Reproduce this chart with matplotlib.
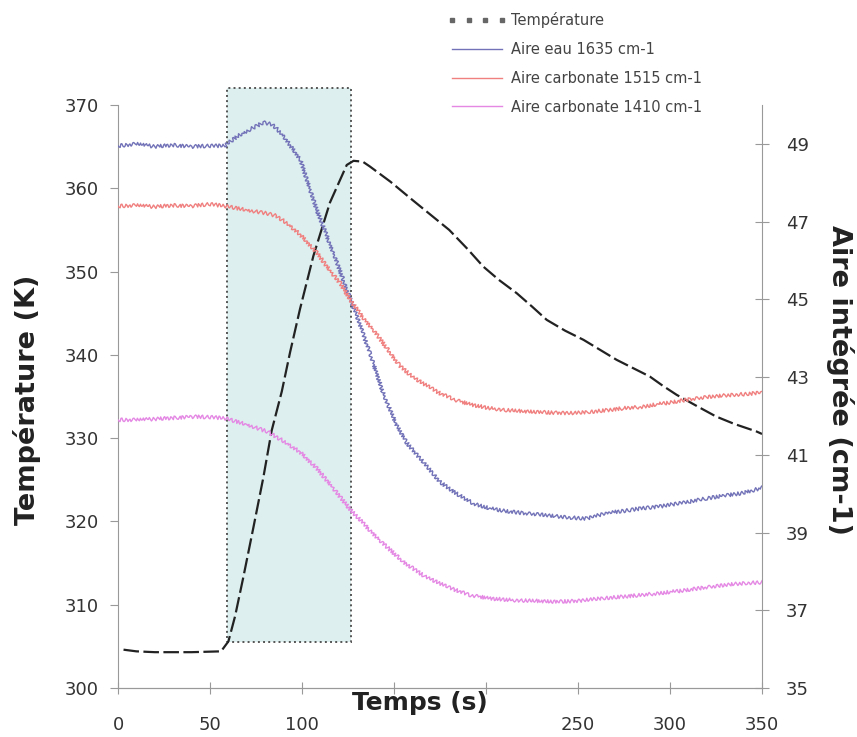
import matplotlib
matplotlib.use("Agg")
import matplotlib.pyplot as plt
from matplotlib.patches import Rectangle
from matplotlib.lines import Line2D

plt.rcParams['font.family'] = ['DejaVu Sans']

# temperature (K), left axis
t_temp = [3, 10, 20, 40, 56, 58, 60, 63.6, 68.1, 73.6, 79, 83.5, 89, 93.5, 98.9,
          106.2, 115.2, 124.3, 128, 133, 137, 148, 160, 170, 180, 190, 198.5, 207,
          216.7, 225, 233, 243, 253, 262, 271, 280, 289, 296, 303.6, 315, 325, 335,
          347, 350]
temp = [304.6, 304.4, 304.3, 304.3, 304.4, 305.0, 305.6, 308.6, 313.3, 319.3, 325.3,
        330.9, 335.6, 340.3, 345.5, 351.9, 358.3, 362.8, 363.3, 363.2, 362.6, 360.8,
        358.6, 356.8, 355.0, 352.7, 350.6, 349.0, 347.4, 345.8, 344.2, 342.9, 341.8,
        340.6, 339.4, 338.4, 337.4, 336.3, 335.2, 333.8, 332.6, 331.7, 330.8, 330.5]

# integrated areas (cm-1), right axis
t_eau = [0, 10, 20, 30, 40, 50, 58, 65, 72, 79, 84, 90, 99, 108, 117, 124, 131, 137,
         144, 151, 157, 166, 175, 184, 193, 202, 211, 220, 229, 238, 247, 255, 265,
         274, 284, 293, 302, 311, 320, 330, 340, 350]
eau = [48.95, 49.0, 48.93, 48.97, 48.93, 48.95, 48.95, 49.2, 49.38, 49.55, 49.5, 49.2,
       48.6, 47.3, 46.2, 45.3, 44.4, 43.6, 42.6, 41.8, 41.3, 40.8, 40.3, 40.0, 39.75,
       39.62, 39.55, 39.5, 39.47, 39.42, 39.38, 39.36, 39.5, 39.55, 39.62, 39.66,
       39.73, 39.8, 39.88, 39.95, 40.02, 40.15]

t_c1515 = [0, 10, 20, 30, 40, 50, 58, 70, 80, 86, 92, 99, 108, 115, 121, 126, 132,
           139, 146, 153, 160, 167, 175, 184, 193, 202, 211, 220, 229, 238, 247, 256,
           266, 275, 284, 293, 302, 311, 320, 330, 340, 350]
c1515 = [47.4, 47.42, 47.38, 47.42, 47.4, 47.45, 47.4, 47.3, 47.22, 47.15, 46.95,
         46.67, 46.2, 45.75, 45.4, 45.0, 44.6, 44.2, 43.75, 43.3, 43.0, 42.8, 42.58,
         42.4, 42.28, 42.2, 42.15, 42.12, 42.1, 42.08, 42.07, 42.1, 42.15, 42.2, 42.23,
         42.3, 42.36, 42.43, 42.49, 42.53, 42.56, 42.6]

t_c1410 = [0, 10, 20, 30, 40, 50, 58, 70, 81, 90, 99, 108, 117, 126, 135, 144, 155,
           167, 179, 191, 203, 215, 227, 238, 250, 262, 274, 286, 298, 309, 321, 333,
           342, 350]
c1410 = [41.9, 41.9, 41.92, 41.95, 41.98, 41.97, 41.94, 41.78, 41.6, 41.35, 41.07,
         40.65, 40.14, 39.6, 39.15, 38.72, 38.25, 37.86, 37.6, 37.39, 37.3, 37.26,
         37.24, 37.22, 37.24, 37.3, 37.35, 37.4, 37.46, 37.52, 37.6, 37.67, 37.7, 37.72]

# heating zone highlighted on the chart
shade_x0, shade_x1 = 59, 126.5
shade_y0, shade_y1 = 305.5, 372

fig = plt.figure(figsize=(8.57, 7.37), dpi=100)
ax = fig.add_axes([0.1377, 0.0665, 0.7515, 0.791])
ax2 = ax.twinx()

grey = '#999999'
ax.add_patch(Rectangle((shade_x0, shade_y0), shade_x1 - shade_x0, shade_y1 - shade_y0,
                       facecolor='#ddefef', edgecolor='#555555', linestyle=':',
                       linewidth=1.4, clip_on=False, zorder=0.5))

ax.plot(t_temp, temp, color='#222222', linewidth=1.6, linestyle=(0, (7, 2)), zorder=3)

l1, = ax2.plot(t_eau, eau, color='#7272b8', linewidth=1.0)
l2, = ax2.plot(t_c1515, c1515, color='#f07f7f', linewidth=1.0)
l3, = ax2.plot(t_c1410, c1410, color='#e488e4', linewidth=1.0)
# zigzag look of the raw spectra
for l in (l1, l2, l3):
    l.set_sketch_params(1.8, 4.0, 2.0)

ax.set_xlim(0, 350)
ax.set_ylim(300, 370)
ax2.set_ylim(35, 50)

ax.set_xticks(range(0, 351, 50))
ax.set_xticklabels(['0', '50', '100', '', '', '250', '300', '350'])
ax.set_yticks(range(300, 371, 10))
ax2.set_yticks(range(35, 50, 2))

for a in (ax, ax2):
    for s in a.spines.values():
        s.set_color(grey)
    a.spines['top'].set_visible(False)
ax.spines['right'].set_visible(False)
ax2.spines['left'].set_visible(False)

ax.tick_params(axis='x', direction='inout', length=9, color=grey, labelsize=13,
               labelcolor='#333333', pad=16)
ax.tick_params(axis='y', direction='out', length=6, color=grey, labelsize=13,
               labelcolor='#333333', pad=8)
ax2.tick_params(axis='y', direction='inout', length=10, color=grey, labelsize=13,
                labelcolor='#333333', pad=12)

ax.text(0.469, -0.006, 'Temps (s)', transform=ax.transAxes, ha='center', va='top',
        fontsize=18, fontweight='bold', color='#222222')
fig.text(27 / 857, 1 - 400 / 737, 'Température (K)', rotation=90, ha='center',
         va='center', fontsize=19.5, fontweight='bold', color='#222222')
fig.text(840 / 857, 1 - 380 / 737, 'Aire intégrée (cm-1)', rotation=-90, ha='center',
         va='center', fontsize=19.5, fontweight='bold', color='#222222')

handles = [Line2D([0], [0], linestyle='none', marker='s', markersize=3.5, color='#666666'),
           Line2D([0], [0], color='#7272b8', linewidth=1),
           Line2D([0], [0], color='#f07f7f', linewidth=1),
           Line2D([0], [0], color='#e488e4', linewidth=1)]
labels = ['Température', 'Aire eau 1635 cm-1', 'Aire carbonate 1515 cm-1',
          'Aire carbonate 1410 cm-1']
leg = fig.legend(handles, labels, loc='upper left', bbox_to_anchor=(448 / 857, 1 - 12 / 737),
                 frameon=False, borderpad=0, borderaxespad=0, numpoints=4,
                 handlelength=4.0, handletextpad=0.35, labelspacing=0.95,
                 prop={'size': 10.5})
for txt in leg.get_texts():
    txt.set_color('#444444')

fig.savefig('out.png', dpi=100)
